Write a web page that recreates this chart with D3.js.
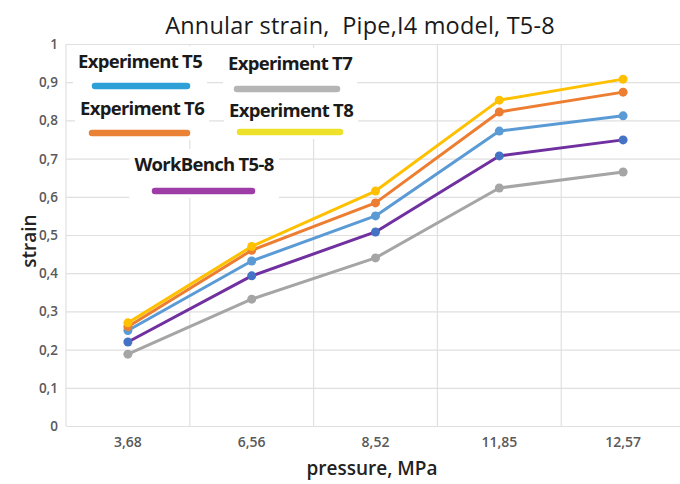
<!DOCTYPE html>
<html>
<head>
<meta charset="utf-8">
<script src="https://cdn.jsdelivr.net/npm/d3@7"></script>
<style>
  html, body { margin: 0; padding: 0; background: #fff; }
  svg { display: block; }
  text { white-space: pre; }
</style>
</head>
<body>
<svg id="chart" width="680" height="484"></svg>
<script>
// Pressure steps (MPa) shown as categories on the x axis
const pressures = ["3,68", "6,56", "8,52", "11,85", "12,57"];

// Annular strain per series
const expT5 = [0.250, 0.432, 0.550, 0.772, 0.812];
const expT6 = [0.260, 0.460, 0.584, 0.822, 0.874];
const expT7 = [0.188, 0.332, 0.440, 0.623, 0.665];
const expT8 = [0.270, 0.470, 0.615, 0.853, 0.908];
const workBench = [0.220, 0.393, 0.508, 0.707, 0.749];

const yTicks = [0, 0.1, 0.2, 0.3, 0.4, 0.5, 0.6, 0.7, 0.8, 0.9, 1];
const yTickLabels = ["0", "0,1", "0,2", "0,3", "0,4", "0,5", "0,6", "0,7", "0,8", "0,9", "1"];

const series = [
  { name: "Experiment T7", values: expT7, color: "#A5A5A5", marker: "#A5A5A5", legendColor: "#B5B5B5" },
  { name: "WorkBench T5-8", values: workBench, color: "#7030A0", marker: "#4472C4", legendColor: "#9E3DA8" },
  { name: "Experiment T5", values: expT5, color: "#5B9BD5", marker: "#5B9BD5", legendColor: "#2EA0D8" },
  { name: "Experiment T6", values: expT6, color: "#ED7D31", marker: "#ED7D31", legendColor: "#EA8236" },
  { name: "Experiment T8", values: expT8, color: "#FFC000", marker: "#FFC000", legendColor: "#EEE12A" }
];

const svg = d3.select("#chart");
const font = "'Open Sans', 'Noto Sans', sans-serif";

const plot = { left: 66, right: 685, top: 44, bottom: 426 };

const x = d3.scaleBand().domain(pressures).range([plot.left, plot.right]).paddingInner(0).paddingOuter(0);
const y = d3.scaleLinear().domain([0, 1]).range([plot.bottom, plot.top]);

// Horizontal grid
svg.append("g")
  .attr("transform", `translate(${plot.left},0)`)
  .call(d3.axisLeft(y).tickValues(yTicks).tickSize(-(plot.right - plot.left)).tickFormat(""))
  .call(g => g.select(".domain").remove())
  .call(g => g.selectAll("line").attr("stroke", "#E0E0E0").attr("stroke-width", 1.2));

// Vertical grid at category boundaries
const bounds = pressures.map(p => x(p)).concat([plot.right]);
svg.append("g").selectAll("line").data(bounds).join("line")
  .attr("x1", d => d).attr("x2", d => d)
  .attr("y1", plot.top).attr("y2", plot.bottom)
  .attr("stroke", "#E0E0E0").attr("stroke-width", 1.2);

// Y tick labels
svg.append("g").selectAll("text").data(yTicks).join("text")
  .attr("x", 58).attr("y", d => y(d) + 5)
  .attr("text-anchor", "end")
  .attr("font-family", font).attr("font-size", 13.5).attr("font-weight", 600)
  .attr("fill", "#595959")
  .text((d, i) => yTickLabels[i]);

// X axis category labels
svg.append("g")
  .attr("transform", `translate(0,${plot.bottom})`)
  .call(d3.axisBottom(x).tickSize(0).tickPadding(11))
  .call(g => g.select(".domain").remove())
  .call(g => g.selectAll("text")
    .attr("font-family", font).attr("font-size", 14).attr("font-weight", 600)
    .attr("fill", "#595959"));

// Lines and markers
const cx = p => x(p) + x.bandwidth() / 2;
const line = d3.line().x((d, i) => cx(pressures[i])).y(d => y(d));

const gSeries = svg.append("g");
series.forEach(s => {
  gSeries.append("path")
    .datum(s.values)
    .attr("d", line)
    .attr("fill", "none")
    .attr("stroke", s.color)
    .attr("stroke-width", 3)
    .attr("stroke-linejoin", "round");
  gSeries.append("g").selectAll("circle").data(s.values).join("circle")
    .attr("cx", (d, i) => cx(pressures[i]))
    .attr("cy", d => y(d))
    .attr("r", 4.5)
    .attr("fill", s.marker);
});

// Legend entries: label above a short swatch line, on a white backing
const legendItems = [
  { key: "Experiment T5", tx: 140, ty: 68, lx1: 95, lx2: 187, ly: 86 },
  { key: "Experiment T7", tx: 290, ty: 70, lx1: 237, lx2: 337, ly: 89 },
  { key: "Experiment T6", tx: 142, ty: 115, lx1: 92, lx2: 187, ly: 133 },
  { key: "Experiment T8", tx: 291, ty: 117, lx1: 240, lx2: 340, ly: 132 },
  { key: "WorkBench T5-8", tx: 204, ty: 171, lx1: 155, lx2: 252, ly: 191 }
];
const gLegend = svg.append("g");
legendItems.forEach(item => {
  const s = series.find(d => d.name === item.key);
  const g = gLegend.append("g");
  const rect = g.append("rect").attr("fill", "#fff");
  const t = g.append("text")
    .attr("x", item.tx).attr("y", item.ty)
    .attr("text-anchor", "middle")
    .attr("font-family", font).attr("font-size", 18.5).attr("font-weight", 700)
    .attr("letter-spacing", -0.7)
    .attr("fill", "#1a1a1a")
    .text(item.key);
  const bb = t.node().getBBox();
  rect.attr("x", bb.x - 5).attr("y", bb.y - 2)
    .attr("width", bb.width + 10).attr("height", item.ly - bb.y + 9);
  g.append("line")
    .attr("x1", item.lx1).attr("x2", item.lx2)
    .attr("y1", item.ly).attr("y2", item.ly)
    .attr("stroke", s.legendColor).attr("stroke-width", 6.5)
    .attr("stroke-linecap", "round");
});

// Title
svg.append("text")
  .attr("x", 360).attr("y", 34)
  .attr("text-anchor", "middle")
  .attr("font-family", font).attr("font-size", 23.5)
  .attr("letter-spacing", 0.2)
  .attr("fill", "#1a1a1a")
  .text("Annular strain,  Pipe,I4 model, T5-8");

// Axis titles
svg.append("text")
  .attr("transform", "translate(36,241) rotate(-90)")
  .attr("text-anchor", "middle")
  .attr("font-family", font).attr("font-size", 19).attr("font-weight", 600)
  .attr("fill", "#222")
  .text("strain");

svg.append("text")
  .attr("x", 372).attr("y", 475)
  .attr("text-anchor", "middle")
  .attr("font-family", font).attr("font-size", 19).attr("font-weight", 600)
  .attr("fill", "#222")
  .text("pressure, MPa");
</script>
</body>
</html>
